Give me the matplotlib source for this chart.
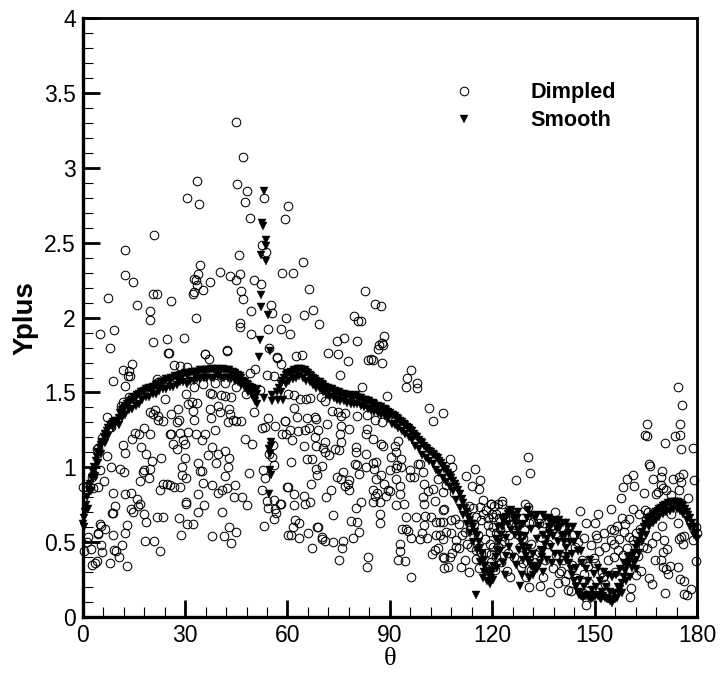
import numpy as np
import matplotlib
matplotlib.use("Agg")
import matplotlib.pyplot as plt

plt.rcParams['font.family'] = ['Liberation Sans', 'DejaVu Sans']

# (theta, yplus), one list per region
dimpled_high = [
(44.9,3.31),(46.9,3.07),(33.4,2.91),(30.6,2.80),(34.1,2.756),(45.2,2.891),(48.2,2.843),(47.7,2.774),(53.1,2.80),
(49.1,2.665),(60.2,2.745),(59.4,2.658),(20.9,2.549),(12.5,2.454),(52.4,2.485),(53.6,2.44),(45.7,2.418),(34.4,2.351),
(12.5,2.283),(14.8,2.24),(40.3,2.305),(43.1,2.28),(46,2.289),(44.8,2.249),(33.7,2.289),(32.6,2.258),(33.3,2.25),
(33.4,2.22),(37.3,2.236),(35.3,2.187),(32.6,2.17),(32.4,2.156),(50.3,2.25),(52.2,2.227),(58.4,2.30),(46.5,2.178),
(46.9,2.122),(7.5,2.131),(20.5,2.156),(21.7,2.16),(15.8,2.087),(25.8,2.111),(19.8,2.043),(19.6,1.983),(33.1,2.0),
(55.3,2.087),(55.5,2.034),(49.3,2.045),(59.6,2.0),(46.1,1.965),(46.1,1.94),(54.3,1.927),(58,1.922),(60.6,1.891),
(49.3,1.894),(9.3,1.92),(5.2,1.894),(7.9,1.798),(20.5,1.838),(24.6,1.86),(29.6,1.863),(25.2,1.765),(35.8,1.756),
(42.4,1.78),(42.4,1.785),(54.6,1.798),(57,1.734),(37.1,1.725),
(64.5,2.37),(66.2,2.19),(61.6,2.30),(82.6,2.175),(85.6,2.09),(87.5,2.08),(79.6,2.01),(80.8,1.98),(81.4,1.98),
(88.4,1.88),(87.8,1.83),(86.5,1.79),(85.2,1.72),(83.5,1.72),(76.6,1.865),(69.2,1.96),(67.4,2.05),(64.9,2.02),
]
dimpled_left = [
(14.3,1.693),(11.9,1.653),(13.6,1.642),(13.3,1.613),(13.8,1.607),(8.9,1.578),(12.3,1.542),(13.5,1.473),(14.5,1.469),
(11.7,1.436),(11.1,1.413),(11.7,1.398),(7,1.333),(8.3,1.269),(5.6,1.198),(4.1,1.124),(4.6,1.131),(7.1,1.073),
(8.4,1.002),(10.9,.989),(12.2,.967),(5.1,.984),(3.1,.947),(2.6,.936),(6.3,.907),(4.6,.867),(2.1,.867),(.2,.867),
(1.2,.867),(2.9,.862),(8.8,.831),(12.4,.82),(14.2,.827),(15.8,.791),(9.5,.74),(16.8,.753),(16.3,.74),(8.8,.698),
(8.6,.696),(14.1,.72),(14.8,.704),(18,.689),(18.5,.633),(13.1,.618),(5.1,.62),(5.3,.609),(6.4,.587),(4.6,.56),
(4.4,.556),(8.8,.549),(12.4,.564),(1.5,.536),(1.2,.502),(5.4,.478),(11.5,.482),(2.5,.456),(5.8,.436),(.4,.44),
(9.2,.447),(9.8,.438),(10.6,.398),(8,.364),(4.3,.373),(3.5,.362),(2.7,.347),(13,.34),(18.4,.511),(20.8,.507),
(22.7,.44),(21.9,.667),(23.4,.667),(28.1,.662),(30.5,.624),(32.2,.624),(28.9,.547),(30.2,.758),(30.2,.77),(35.6,.747),
(33.9,.702),(33.9,.822),(40.9,.704),(38,.538),(41.4,.54),(43,.6),(44.8,.567),(43.5,.496),(46.7,.802),(44.4,.8),
(48,.751),(48.8,.964),(41.7,.94),(37.8,.88),(35.3,.898),(39.7,.831),(40.7,.851),(42.4,.864),(44.5,.884),(29,.947),
(30.4,.929),(29.2,1.004),(30,1.064),(33.9,1.029),(34.3,.976),(35.1,.973),(39,1.029),(42.6,1.004),(42.9,1.064),
(41.8,1.109),(36.8,1.08),(39.5,1.091),(37.8,1.133),(35,1.184),(35.8,1.224),(33.2,1.22),(31,1.238),(30.1,1.158),
(29.5,1.184),(28.5,1.231),(26,1.224),(25.6,1.22),(26.5,1.153),(27.7,1.122),(38.7,1.247),(47.5,1.191),(49.7,1.156),
(23,1.06),(20.3,1.042),(18.5,1.087),(17.2,1.136),(18,1.262),(19.8,1.224),(16.5,1.22),(15.3,1.229),(14.5,1.191),
(11.7,1.147),(12.5,1.098),(18,.98),(17.8,.969),(19.7,.991),(19.4,.929),(16.7,.911),(22.7,.851),(23.6,.887),(24.7,.891),
(25.6,.88),(26.8,.869),(28.5,.869),(22.2,1.313),(23.6,1.309),(25.8,1.353),(27.8,1.391),(28.2,1.313),(27.5,1.302),
(32.7,1.318),(32.3,1.376),(31,1.424),(32,1.436),(33.4,1.431),(30.2,1.491),(37.3,1.498),(37.8,1.487),(37.3,1.391),
(37.5,1.331),(39.5,1.407),(40.2,1.369),(40.4,1.484),(41.7,1.476),(43.4,1.469),(42.8,1.391),(43.1,1.358),(42.6,1.302),
(44.1,1.313),(45,1.309),(46.3,1.309),(47.8,1.491),(50.3,1.369),(54.3,1.329),(52.6,1.262),(53.4,1.269),(56.3,1.273),
(58.4,1.224),(59.4,1.309),(54.6,1.091),(55.8,1.151),(55.6,1.067),(52.9,.98),(53.4,.929),(52.4,.847),(56,1.013),(54,.773),
(56,.78),(57.8,.753),(54.3,.729),(56.3,.724),(56.6,.698),(56,.658),(53,.607),(60.2,.869),(60.2,.547),(19.7,1.369),
(20.5,1.358),(21.2,1.38),(22,1.34),(26.8,1.684),(28.6,1.678),(30.6,1.669),(21.7,1.587),(22.1,1.573),(24.1,1.458),
(35.3,1.558),(32.6,1.54),(38.7,1.564),(41.7,1.564),(44.8,1.54),(51.9,1.518),(56,1.613),(53.9,1.62),(50.4,1.658),
(49,1.631),(58,1.691),(57,1.731),(25.1,1.762),(35.8,1.758),
]
dimpled_mid = [
(62.6,1.747),(64.3,1.749),(71.8,1.763),(74.8,1.76),(77.6,1.709),(84.5,1.723),(87.6,1.698),(86.8,1.816),(88,1.814),
(74.4,1.847),(80.4,1.843),(75.3,1.62),(96.3,1.649),(95.1,1.598),(94.6,1.534),(98.1,1.563),(98.1,1.531),(101.5,1.396),
(105.5,1.36),(102.5,1.309),(89.3,1.474),(81.9,1.536),(60.2,1.487),(61.8,1.48),(63.8,1.458),(65.5,1.458),(66.7,1.465),
(69.8,1.469),(70.9,1.44),(61.8,1.394),(62.8,1.336),(65.7,1.327),(68.1,1.336),(68.3,1.32),(59.2,1.309),(71.7,1.291),
(73.1,1.378),(74.8,1.369),(75.8,1.34),(76.9,1.362),(80.3,1.345),(83.4,1.349),(85.7,1.318),(87.7,1.303),(91.4,1.307),
(60.7,1.251),(63.1,1.243),(65.1,1.251),(66.3,1.263),(69,1.247),(68,1.202),(59.7,1.225),(61.4,1.185),(64.8,1.143),
(68.5,1.14),(70.9,1.169),(70.4,1.129),(70.9,1.103),(72.2,1.08),(73.8,1.125),(75.1,1.118),(75.7,1.169),(75.5,1.225),
(75.8,1.274),(78,1.258),(80.2,1.136),(80.2,1.103),(83.1,1.091),(83.3,1.258),(83.1,1.225),(85.2,1.191),(87.5,1.158),
(88,1.14),(92.4,1.174),(91.4,1.14),(91.9,1.103),(90.2,1.069),(93.4,1.058),(61,1.034),(65.7,1.058),(67.2,1.056),
(68.5,.991),(70.2,1.009),(68.7,.947),(66.8,.887),(59.9,.869),(62,.825),(64.9,.807),(66.5,.765),(65.2,.754),(61.8,.747),
(58,.754),(72.9,.851),(71.4,.803),(73.2,.68),(76.3,.969),(74.6,.936),(75.8,.925),(78.1,.918),(76.8,.876),(77.7,.887),
(78,.851),(80.9,.958),(80.4,1.014),(79.8,1.02),(82.9,1.002),(85.8,1.036),(85.1,1.029),(85.5,.991),(89.9,.985),
(91.8,.994),(92.2,1.014),(93.4,1.002),(96,.98),(98.2,1.02),(98.9,1.02),(99.7,.969),(97.1,.936),(95.8,.936),(91.7,.92),
(85.8,.925),(87.5,.951),(88.3,.891),(89.4,.847),(90.1,.84),(85.1,.851),(86.2,.829),(85.6,.807),(85.1,.769),(87.2,.765),
(88.9,.809),(92.9,.876),(92.9,.825),(91.9,.749),(94.1,.756),(81.4,.765),(80,.725),(87,.689),(87.1,.627),(78.7,.64),
(80.3,.636),(80.9,.567),(79.2,.527),(76.3,.511),(76.1,.458),(75.1,.38),(73.3,.5),(70.9,.507),(70,.536),(70.2,.518),
(69,.603),(68.7,.603),(66,.558),(63.3,.531),(61,.547),(61.6,.598),(62.1,.647),(63.4,.625),(67.3,.458),(83.6,.403),
(83.3,.331),(92.9,.489),(92.9,.44),(92.4,.382),(94.3,.371),(96.3,.269),(94.8,.591),(94.6,.667),(95.3,.576),(93.6,.587),
(96.3,.529),(97.8,.669),(100.2,.673),(102.1,.665),(100,.618),(99.5,.562),(101,.531),(98.9,.518),(103.6,.636),(104.8,.636),
(105.7,.636),(103.6,.547),(104.6,.547),(106.5,.569),(105.7,.518),(109.4,.513),(108,.647),(109.2,.658),(112,.569),
(105.5,.714),(106,.72),(103.3,.776),(99.9,.758),(99.7,.803),(101.2,.842),(102.6,.858),(104.1,.925),(105.5,.836),
(106.5,.88),(100,.887),(108.8,.829),(112.4,.94),(114.9,.987),(116.3,.918),(116.1,.858),(114.1,.876),(107.7,1.056),
(108.3,1.002),(104.1,.458),(103.1,.447),(102.3,.418),(106,.391),(105.5,.398),(108.2,.425),(107.5,.403),(106,.325),
(107,.331),(110.9,.331),(113.3,.303),(111.9,.38),(110.4,.458),(109.4,.465),(113.8,.469),(115.3,.385),(116.8,.425),
(117.2,.78),(116.3,.736),(118.2,.714),(119.7,.758),(121.2,.691),(115.3,.669),(116.8,.647),(118.7,.613),(120.2,.669),
(121.6,.758),(114.3,.725),(117.2,.691),(119.2,.569),(121.2,.558),(120.2,.469),(118.2,.425),(121.2,.403),(121.6,.469),
(113.1,.74),(114.8,.62),(115.9,.55),(117.9,.52),(118.9,.66),(120.6,.74),(122,.66),(122.4,.59),(113.6,.58),(112.6,.49),
(115.1,.45),(116.2,.33),(118.4,.34),(119.5,.42),(122.5,.37),(123.4,.51),(124.2,.31),(111.1,.55),(110.2,.62),(107.8,.56),
]
dimpled_right = [
(174.3,1.534),(175.5,1.418),(165.3,1.287),(174.9,1.289),(164.8,1.218),(165.3,1.209),(173.5,1.207),(174.9,1.218),
(170.6,1.16),(175.4,1.12),(178.9,1.129),(166,1.02),(166.2,1.009),(169.8,.978),(161.2,.949),(159.4,.923),(167.1,.925),
(169.4,.936),(161.5,.878),(158.2,.867),(164.6,.829),(157.6,.794),(179.1,.918),(175.8,.954),(174.8,.936),(172.9,.925),
(169.4,.88),(169.9,.865),(168,.82),(168.5,.836),(170.9,.847),(172.4,.814),(174.8,.847),(175.3,.903),(177.4,.798),
(161.2,.722),(154.9,.72),(163.1,.691),(164.9,.714),(165.5,.703),(158,.66),(160.2,.658),(156.6,.611),(154.9,.591),
(165,.647),(151.1,.685),(145.8,.707),(147.5,.625),(138.3,.7),(129.6,.754),(130.4,.736),(122.9,.776),(122.9,.758),
(130.5,1.069),(131.1,.96),(127,.914),(172.4,.687),(174.5,.625),(169.8,.607),(176.1,.54),(175.3,.536),(174.6,.52),
(176,.487),(178.9,.513),(179.7,.602),(179.9,.558),(179.7,.374),(170.4,.516),(168,.542),(166.7,.496),(165.3,.464),
(171.3,.451),(169.9,.431),(167.7,.38),(169.4,.38),(169.9,.336),(170.9,.32),(171.6,.285),(172.1,.342),(174.3,.331),
(175,.254),(176.1,.242),(166,.262),(166.7,.218),(163.6,.305),(170.6,.16),(176.3,.151),(177.1,.147),(178.3,.185),
(162.1,.28),(160.7,.191),(160.5,.134),(147.5,.08),(162.1,.558),(161.2,.514),(158.7,.565),(160.2,.536),(154.8,.514),
(155.8,.491),(150.4,.547),(150.6,.525),(148.9,.48),(147,.525),(153.1,.469),(156.8,.447),(153.8,.38),(155.8,.402),
(158.2,.413),(149.9,.391),(150.2,.358),(144.6,.258),(142.3,.287),(139.5,.291),(141.3,.242),(142.1,.18),(143.1,.176),
(139.2,.225),(137,.169),(134,.209),(130.9,.198),(134.8,.269),(129.9,.269),(128.5,.336),(129,.358),(131.4,.314),
(125.2,.269),(152.2,.303),(146.5,.158),(148.5,.225),(152.4,.269),(155.3,.136),(145.5,.202),(119.7,.758),(120,.691),
(120.2,.602),(122.6,.491),(124.6,.425),(126.5,.402),(129,.525),(130.9,.625),(131.9,.636),(133.8,.625),(134.3,.536),
(133.8,.436),(136.3,.491),(138.7,.413),(140.7,.38),(123.6,.658),(127,.614),(129.4,.58),(119.2,.491),(120.2,.336),
(119.7,.369),(120.7,.314),(141.6,.536),(136.8,.603),(138.7,.558),(125,.547),(131.4,.491),(128,.469),
(144.2,.47),(146.2,.38),(143.4,.35),(148.2,.34),(151.4,.44),(152.8,.56),(157.2,.52),(157.9,.31),(159.6,.46),(163.2,.59),
(164.1,.47),(162.8,.41),(156.1,.3),(152.9,.22),(146.9,.29),(140.2,.31),(137.9,.33),(135.4,.38),(132.6,.42),(127.8,.55),
(126.1,.67),(124.4,.6),(128.9,.66),(135.2,.63),(140.1,.6),(143.5,.55),(145.2,.5),(150,.63),(155.6,.58),(158.9,.62),
]
smooth_band = [
(0,.62),(.3,.66),(.6,.7),(1,.75),(1.4,.8),(1.8,.85),(2.2,.89),(2.6,.93),(3,.97),(3.4,1.0),(3.8,1.04),(4.2,1.07),(4.6,1.1),
(5,1.13),(5.4,1.15),(5.8,1.17),(6.2,1.2),(6.6,1.22),(7,1.24),(7.5,1.26),(8,1.28),(8.5,1.29),(9,1.3),(9.5,1.31),(10,1.31),
(10.5,1.33),(11,1.36),(11.5,1.38),(12,1.39),(12.5,1.4),(13,1.42),(13.5,1.43),(14,1.44),(14.5,1.45),(15,1.46),(15.5,1.47),
(16,1.48),(16.5,1.49),(17,1.5),(17.5,1.5),(18,1.51),(18.5,1.52),(19,1.52),(19.5,1.53),(20,1.53),(20.5,1.54),(21,1.54),
(21.5,1.55),(22,1.56),(22.5,1.56),(23,1.57),(23.5,1.57),(24,1.58),(24.5,1.59),(25,1.59),(25.5,1.58),(26,1.6),(26.5,1.6),
(27,1.61),(27.5,1.6),(28,1.61),(28.5,1.62),(29,1.62),(29.5,1.62),(30,1.63),(30.5,1.62),(31,1.63),(31.5,1.63),(32,1.64),
(32.5,1.63),(33,1.64),(33.5,1.64),(34,1.64),(34.5,1.65),(35,1.65),(35.5,1.64),(36,1.65),(36.5,1.65),(37,1.65),(37.5,1.66),
(38,1.66),(38.5,1.65),(39,1.66),(39.5,1.65),(40,1.66),(40.5,1.65),(41,1.66),(41.5,1.65),(42,1.65),(42.5,1.65),(43,1.65),
(43.5,1.64),(44,1.64),(44.5,1.63),(45,1.62),(45.5,1.62),(46,1.61),(46.5,1.6),(47,1.58),(47.5,1.57),(48,1.56),(48.5,1.55),
(49,1.54),(49.5,1.53),(50,1.52),(50.5,1.51),(51,1.49),(51.2,1.52),(50.5,1.47),(49.8,1.5),
(53.1,2.843),(52.6,2.63),(52.7,2.61),(53.8,2.518),(53.8,2.476),(52.3,2.42),(53.8,2.378),(52.3,2.154),(52.3,2.07),(54.2,2.016),
(52,1.85),(54.9,1.78),(51.6,1.734),(53,1.46),(55.4,1.48),(55.6,1.44),(55.1,1.17),(55.3,1.14),(54.6,1.12),(55,1.09),(54.8,.98),
(55.1,.95),(54.6,.82),(57,1.5),(57.5,1.53),(58,1.56),(58.5,1.58),(59,1.6),(59.5,1.62),(60,1.63),(60.5,1.63),(61,1.64),
(61.5,1.64),(62,1.65),(62.5,1.65),(63,1.66),(63.5,1.66),(64,1.66),(64.5,1.65),(65,1.65),(65.5,1.64),(66,1.63),(66.5,1.62),
(67,1.61),(67.5,1.6),(68,1.59),(68.5,1.58),(69,1.57),(69.5,1.57),(70,1.56),(70.5,1.55),(71,1.54),(71.5,1.53),(72,1.53),
(72.5,1.52),(73,1.52),(73.5,1.51),(74,1.51),(74.5,1.5),(75,1.5),(75.5,1.49),(76,1.49),(76.5,1.49),(77,1.48),(77.5,1.48),
(78,1.48),(78.5,1.47),(79,1.47),(79.5,1.47),(80,1.48),(80.5,1.47),(81,1.46),(81.5,1.46),(82,1.45),(82.5,1.45),(83,1.45),
(83.5,1.44),(84,1.44),(84.5,1.43),(85,1.43),(85.5,1.42),(86,1.41),(86.5,1.41),(87,1.4),(87.5,1.4),(88,1.39),(88.5,1.39),
(89,1.38),(89.5,1.37),(90,1.36),(90.5,1.35),(91,1.35),(91.5,1.34),(92,1.33),(92.5,1.32),(93,1.31),(93.5,1.3),(94,1.29),
(94.5,1.28),(95,1.27),(95.5,1.26),(96,1.25),(96.5,1.24),(97,1.22),(97.5,1.21),(98,1.2),(98.5,1.18),(99,1.17),(99.5,1.16),
(100,1.14),(100.5,1.13),(101,1.12),(101.5,1.11),(102,1.1),(102.5,1.09),(103,1.08),(103.5,1.07),(104,1.06),(104.5,1.04),
(105,1.03),(105.5,1.01),(106,.99),(106.5,.98),(107,.96),(107.5,.94),(108,.93),(108.5,.91),(109,.89),(109.5,.87),(110,.85),
(110.5,.82),(111,.79),(111.5,.76),(112,.73),(112.5,.7),(113,.67),(113.5,.65),(114,.62),(114.5,.6),(115,.57),(115.5,.54),
(116,.5),(116.5,.46),(117,.42),(117.5,.38),(118,.34),(118.5,.31),(119,.28),(119.5,.26),(115.3,.15),
]
# lower edge of the thick band
smooth_band_low = [
(.5,.6),(1.5,.72),(2.5,.84),(3.5,.94),(4.5,1.03),(5.5,1.09),(6.5,1.16),(7.5,1.21),(9,1.26),(10.5,1.28),(11.5,1.33),(12.5,1.35),
(13.5,1.38),(14.5,1.39),(15.5,1.41),(16.5,1.42),(17.5,1.45),(18.5,1.47),(19.5,1.47),(20.5,1.49),(21.5,1.49),(22.5,1.51),(23.5,1.52),
(24.5,1.52),(25.5,1.54),(26.5,1.54),(27.5,1.55),(28.5,1.57),(29.5,1.57),(30.5,1.56),(31.5,1.58),(32.5,1.58),(33.5,1.59),(34.5,1.59),
(35.5,1.6),(36.5,1.6),(37.5,1.6),(38.5,1.6),(39.5,1.61),(40.5,1.6),(41.5,1.6),(42.5,1.6),(43.5,1.59),(44.5,1.58),(45.5,1.57),
(46.5,1.55),(47.5,1.53),(48.5,1.5),(49.5,1.48),(50.5,1.44),(51,1.42),(57.2,1.45),(58,1.5),(58.6,1.45),(59.5,1.56),(60.5,1.58),
(61.5,1.59),(62.5,1.6),(63.5,1.61),(64.5,1.6),(65.5,1.58),(66.5,1.57),(67.5,1.55),(68.5,1.53),(69.5,1.52),(70.5,1.5),(71.5,1.48),
(72.5,1.47),(73.5,1.46),(74.5,1.45),(75.5,1.44),(76.5,1.44),(77.5,1.43),(78.5,1.42),(79.5,1.42),(80.5,1.42),(81.5,1.41),(82.5,1.4),
(83.5,1.39),(84.5,1.38),(85.5,1.37),(86.5,1.36),(87.5,1.35),(88.5,1.34),(89.5,1.32),(90.5,1.29),(91.5,1.28),(92.5,1.26),(93.5,1.24),
(94.5,1.22),(95.5,1.2),(96.5,1.18),(97.5,1.14),(98.5,1.12),(99.5,1.08),(100.5,1.06),(101.5,1.04),(102.5,1.02),(103.5,.98),
(104.5,.96),(105.5,.93),(106.5,.9),(107.5,.87),(108.5,.84),(109.5,.78),(110.5,.73),(111.5,.68),(112.5,.62),(113.5,.56),(114.5,.5),
(115.5,.45),(116.5,.37),(117.5,.3),(118.5,.24),(119.2,.22),(117.2,.26),(120.2,.247),
]
smooth_waves = [
(120,.3),(120.5,.34),(121,.4),(121.5,.45),(122,.5),(122.5,.55),(123,.6),(123.5,.64),(124,.67),(124.5,.69),(125,.7),(125.5,.7),
(126,.68),(126.5,.65),(127,.62),(127.5,.58),(128,.54),(128.5,.5),(129,.47),(129.5,.44),(130,.41),(130.5,.38),(131,.36),
(131.5,.34),(132,.33),(132.5,.33),(133,.32),(133.5,.34),(134,.36),(134.5,.4),(135,.44),(135.5,.48),(136,.52),(136.5,.56),
(137,.6),(137.5,.62),(138,.64),(138.5,.65),(139,.64),(139.5,.6),(140,.6),(140.5,.54),(141,.5),(141.5,.46),(142,.41),(142.5,.36),
(143,.32),(143.5,.28),(144,.24),(144.5,.2),(145,.17),(145.5,.15),(146,.14),(146.5,.13),(147,.14),(147.5,.14),(148,.15),
(148.5,.13),(149,.12),(149.5,.13),(150,.14),(150.5,.15),(151,.14),(151.5,.13),(152,.12),(152.5,.14),(153,.13),(153.5,.12),
(154,.12),(154.5,.11),(155,.11),(155.2,.093),(156,.12),(156.5,.13),(157,.16),(157.5,.19),(158,.23),(158.5,.27),(159,.31),
(159.5,.34),(160,.37),(160.5,.39),(161,.41),(161.5,.43),(162,.46),(162.5,.49),(163,.51),(163.5,.54),(164,.57),(164.5,.6),
(165,.62),(165.5,.64),(166,.66),(166.5,.67),(167,.68),(167.5,.69),(168,.7),(168.5,.71),(169,.72),(169.5,.73),(170,.74),
(170.5,.75),(171,.75),(171.5,.76),(172,.76),(172.5,.77),(173,.77),(173.5,.77),(174,.77),(174.5,.77),(175,.76),(175.5,.75),
(176,.74),(176.5,.72),(177,.7),(177.5,.68),(178,.66),(178.5,.63),(179,.6),(179.5,.56),(180,.52),
(162,.38),(163,.43),(164,.5),(165,.55),(166,.6),(167,.63),(168,.65),(169,.67),(170,.69),(171,.7),(172,.71),(173,.72),(174,.72),
(175,.71),(176,.69),(177,.65),(178,.6),(179,.55),
(123.8,.28),(128.2,.207),(130.9,.26),(130.6,.713),(133.2,.68),(125.5,.713),(137.2,.633),(139.7,.647),(141.6,.627),(145,.547),
]
# the black cloud between 120 and 165 degrees
smooth_cloud = [
(121,.52),(121.6,.6),(122.2,.44),(122.8,.66),(123.3,.36),(123.9,.53),(124.5,.62),(125,.47),(125.6,.58),(126.2,.4),(126.8,.55),
(127.3,.66),(127.9,.45),(128.5,.61),(129.1,.38),(129.7,.54),(130.2,.66),(130.8,.46),(131.4,.59),(132,.42),(132.5,.66),(133.1,.52),
(133.7,.61),(134.3,.45),(134.8,.55),(135.4,.66),(136,.38),(136.6,.6),(137.1,.47),(137.7,.54),(138.3,.42),(138.9,.59),(139.4,.5),
(140,.42),(140.6,.63),(141.2,.55),(141.7,.38),(142.3,.6),(142.9,.5),(143.5,.42),(144,.5),(144.6,.33),(145.2,.44),(145.8,.25),
(146.4,.36),(147,.2),(147.5,.32),(148.1,.24),(148.7,.38),(149.3,.18),(149.9,.29),(150.4,.2),(151,.33),(151.6,.24),(152.2,.17),
(152.8,.3),(153.3,.2),(153.9,.28),(154.5,.17),(155.1,.27),(155.7,.16),(156.3,.28),(156.8,.2),(157.4,.32),(158,.16),(158.6,.36),
(159.2,.24),(159.7,.4),(160.3,.27),(160.9,.33),(161.5,.36),(162.1,.32),(121.5,.33),(124,.41),(127,.35),(128.8,.28),(132,.28),
(135,.3),(137.5,.36),(139.8,.36),(127.5,.7),(129,.62),(131.5,.68),(134.9,.68),(136.5,.66),(142.5,.56),(143.8,.6),(146,.44),
]
dimpled = np.array(dimpled_high + dimpled_left + dimpled_mid + dimpled_right)
smooth = np.array(smooth_band + smooth_band_low + smooth_waves + smooth_cloud)

fig = plt.figure(figsize=(7.2, 6.73), dpi=100)
ax = fig.add_axes([82.7/720, 1-617/673, (697-82.7)/720, (617-18.3)/673])

ax.plot(dimpled[:,0], dimpled[:,1], 'o', mfc='none', mec='k', mew=0.75, ms=6.2, label='Dimpled', clip_on=False, zorder=3)
ax.plot(smooth[:,0], smooth[:,1], 'v', mfc='k', mec='k', mew=0.3, ms=5.4, label='Smooth', clip_on=False, zorder=4)

ax.set_xlim(0, 180)
ax.set_ylim(0, 4)
ax.set_xticks(np.arange(0, 181, 30))
ax.set_xticks(np.arange(0, 181, 6), minor=True)
ax.set_yticks(np.arange(0, 4.01, 0.5))
ax.set_yticks(np.arange(0, 4.01, 0.1), minor=True)
ax.set_yticklabels(['0', '0.5', '1', '1.5', '2', '2.5', '3', '3.5', '4'])
ax.tick_params(which='major', direction='in', length=12, width=2, labelsize=16.5, pad=5)
ax.tick_params(which='minor', direction='in', length=7.5, width=0.8)
ax.tick_params(axis='x', pad=5)
for s in ax.spines.values():
    s.set_linewidth(2)
ax.spines['left'].set_linewidth(2.4)
ax.spines['bottom'].set_linewidth(2.4)

ax.set_xlabel('θ', fontsize=19, family='Liberation Serif', labelpad=1)
ax.set_ylabel('Yplus', fontsize=20, fontweight='bold', labelpad=4)

ax.legend(loc='upper left', bbox_to_anchor=(0.585, 0.893), frameon=False, numpoints=1,
          prop={'size': 15.6, 'weight': 'bold'}, handletextpad=2.06, labelspacing=0.32,
          borderpad=0, borderaxespad=0)

fig.savefig('out.png', dpi=100)
